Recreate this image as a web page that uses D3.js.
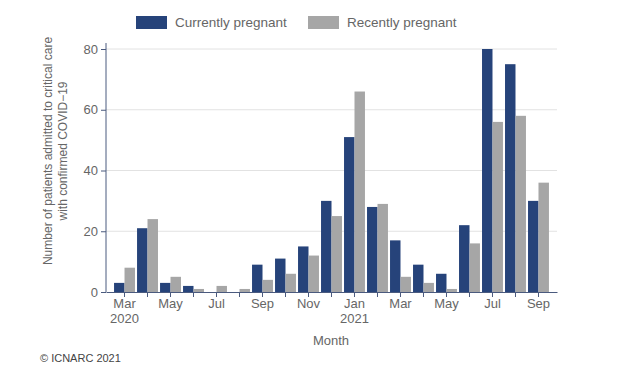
<!DOCTYPE html>
<html>
<head>
<meta charset="utf-8">
<script src="https://cdn.jsdelivr.net/npm/d3@7"></script>
<style>
  body { margin: 0; background: #fff; font-family: "Liberation Sans", Arial, sans-serif; }
  .axis text { fill: #666; font-size: 13px; font-family: "Liberation Sans", Arial, sans-serif; }
  .axis path, .axis line { stroke: #4a5a7e; }
</style>
</head>
<body>
<div id="chart-area"></div>
<script>
// DATA
var months = ["Mar 2020", "Apr 2020", "May 2020", "Jun 2020", "Jul 2020", "Aug 2020",
              "Sep 2020", "Oct 2020", "Nov 2020", "Dec 2020", "Jan 2021", "Feb 2021",
              "Mar 2021", "Apr 2021", "May 2021", "Jun 2021", "Jul 2021", "Aug 2021", "Sep 2021"];
var currentlyPregnant = [3, 21, 3, 2, 0, 0, 9, 11, 15, 30, 51, 28, 17, 9, 6, 22, 80, 75, 30];
var recentlyPregnant  = [8, 24, 5, 1, 2, 1, 4, 6, 12, 25, 66, 29, 5, 3, 1, 16, 56, 58, 36];
var seriesNames = ["Currently pregnant", "Recently pregnant"];
var seriesColors = ["#26437a", "#a6a6a6"];
var yTicks = [0, 20, 40, 60, 80];

// SIZE
var width = 627, height = 370;
var margin = { top: 43, right: 70, bottom: 78, left: 106 };
var innerW = width - margin.left - margin.right;
var innerH = height - margin.top - margin.bottom;

var svg = d3.select("#chart-area")
    .append("svg")
    .attr("width", width)
    .attr("height", height);

var g = svg.append("g")
    .attr("transform", "translate(" + margin.left + "," + margin.top + ")");

// Scales
var x = d3.scaleBand().domain(months).range([0, innerW])
    .paddingInner(0.09).paddingOuter(0.35);
var xs = d3.scaleBand().domain(seriesNames).range([0, x.bandwidth()]);
var y = d3.scaleLinear().domain([0, 80]).range([innerH, 6]);

// Gridlines
g.selectAll(".grid").data(yTicks.filter(d => d > 0)).enter().append("line")
    .attr("class", "grid")
    .attr("x1", 0).attr("x2", innerW)
    .attr("y1", d => y(d)).attr("y2", d => y(d))
    .attr("stroke", "#e2e2e2").attr("stroke-width", 1);

// Bars
var rows = months.map((m, i) => ({ month: m, values: [currentlyPregnant[i], recentlyPregnant[i]] }));
var groups = g.selectAll(".month").data(rows).enter().append("g")
    .attr("transform", d => "translate(" + x(d.month) + ",0)");
groups.selectAll("rect")
    .data(d => d.values.map((v, j) => ({ key: seriesNames[j], value: v, j: j })))
    .enter().append("rect")
    .attr("x", d => xs(d.key))
    .attr("width", xs.bandwidth())
    .attr("y", d => y(d.value))
    .attr("height", d => innerH - y(d.value))
    .attr("fill", d => seriesColors[d.j]);

// Axes
var yAxis = g.append("g").attr("class", "axis")
    .call(d3.axisLeft(y).tickValues(yTicks).tickSize(5).tickSizeOuter(0));
yAxis.select(".domain").attr("d", "M0," + 0 + "V" + innerH);

var labelFor = function (m) {
    var parts = m.split(" ");
    var idx = months.indexOf(m);
    if (idx % 2 !== 0) return null;
    return parts[0] === "Mar" && parts[1] === "2020" ? [parts[0], parts[1]]
         : parts[0] === "Jan" ? [parts[0], parts[1]] : [parts[0]];
};

var xAxis = g.append("g").attr("class", "axis")
    .attr("transform", "translate(0," + innerH + ")")
    .call(d3.axisBottom(x).tickSize(5).tickSizeOuter(0).tickFormat(""));

xAxis.selectAll(".tick").each(function (m) {
    var lines = labelFor(m);
    if (!lines) return;
    var t = d3.select(this).append("text")
        .attr("fill", "#666")
        .attr("text-anchor", "middle")
        .attr("y", 16);
    lines.forEach((l, i) => {
        t.append("tspan").attr("x", 0).attr("dy", i === 0 ? 0 : 15).text(l);
    });
});

// Axis titles
svg.append("text")
    .attr("x", 331).attr("y", 345)
    .attr("text-anchor", "middle")
    .attr("font-size", "13px").attr("fill", "#666")
    .text("Month");

var yLabel = svg.append("text")
    .attr("transform", "translate(52,151) rotate(-90)")
    .attr("text-anchor", "middle")
    .attr("font-size", "12px").attr("fill", "#666");
yLabel.append("tspan").attr("x", 0).attr("y", 0).text("Number of patients admitted to critical care");
yLabel.append("tspan").attr("x", 0).attr("y", 15).text("with confirmed COVID\u221219");

// Legend
var legend = svg.append("g");
var legendX = [136, 308];
seriesNames.forEach((s, i) => {
    legend.append("rect")
        .attr("x", legendX[i]).attr("y", 16)
        .attr("width", 31).attr("height", 13)
        .attr("fill", seriesColors[i]);
    legend.append("text")
        .attr("x", legendX[i] + 39).attr("y", 27)
        .attr("font-size", "13.5px").attr("fill", "#666")
        .text(s);
});

// Copyright
svg.append("text")
    .attr("x", 40).attr("y", 362)
    .attr("font-size", "11px").attr("fill", "#444")
    .text("\u00a9 ICNARC 2021");
</script>
</body>
</html>
